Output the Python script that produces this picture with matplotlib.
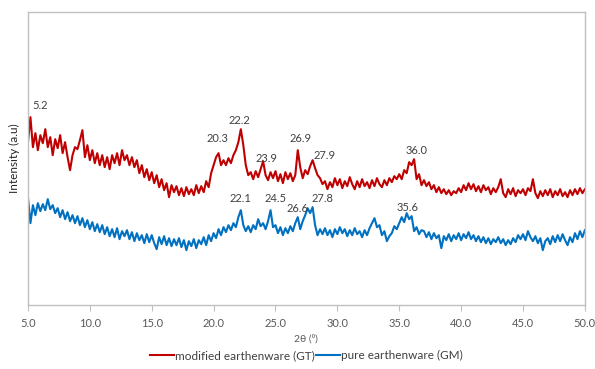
import numpy as np
import matplotlib.pyplot as plt

plt.rcParams['font.family'] = ['Lato', 'DejaVu Sans']

# 2-theta grid (deg), step 0.2
two_theta = np.round(np.arange(5.0, 50.0001, 0.2), 1)

# modified earthenware (GT), intensity (a.u.)
gt = [
    163, 188, 158, 172, 155, 170, 162, 176, 158, 168,
    150, 166, 157, 170, 152, 163, 148, 135, 150, 158,
    156, 165, 175, 148, 160, 145, 155, 142, 152, 140,
    150, 138, 148, 136, 150, 142, 152, 140, 155, 145,
    150, 140, 148, 138, 145, 132, 140, 128, 136, 125,
    133, 122, 130, 118, 126, 115, 122, 108, 120, 113,
    119, 110, 117, 109, 118, 111, 116, 110, 120, 112,
    119, 113, 124, 118, 132, 140, 148, 152, 140, 145,
    140, 147, 142, 150, 155, 163, 176, 160, 140, 130,
    133, 126, 134, 128, 136, 144, 130, 125, 133, 127,
    134, 124, 131, 122, 133, 126, 132, 124, 130, 155,
    138, 127, 135, 131, 139, 145, 137, 130, 127, 121,
    124, 116, 123, 118, 127, 120, 126, 117, 124, 119,
    128, 121, 116, 124, 118, 126, 119, 123, 117, 125,
    119, 127, 121, 118, 125, 120, 127, 123, 129, 126,
    131, 126, 135, 132, 143, 140, 146, 126, 131, 120,
    125, 119, 123, 116, 120, 113, 118, 112, 116, 111,
    115, 110, 114, 112, 117, 113, 120, 115, 122, 116,
    121, 114, 119, 113, 120, 115, 118, 111, 117, 113,
    118, 126, 112, 108, 116, 111, 117, 109, 115, 112,
    116, 110, 117, 114, 126, 112, 107, 114, 109, 115,
    110, 116, 108, 114, 110, 116, 109, 113, 108, 115,
    110, 116, 111, 117, 112, 116,
]

# pure earthenware (GM)
gm = [
    108, 82, 100, 90, 102, 94, 101, 95, 106, 96,
    100, 92, 97, 88, 95, 86, 93, 84, 90, 82,
    89, 80, 87, 78, 85, 76, 83, 74, 81, 73,
    80, 71, 78, 69, 76, 68, 77, 66, 74, 69,
    75, 66, 73, 64, 72, 65, 70, 62, 71, 63,
    70, 62, 56, 68, 61, 69, 60, 67, 59, 66,
    60, 67, 58, 65, 55, 64, 59, 66, 57, 65,
    61, 68, 60, 70, 64, 72, 67, 76, 70, 78,
    73, 80, 75, 82, 78, 88, 95, 80, 74, 79,
    73, 80, 76, 86, 79, 82, 76, 84, 95, 78,
    80, 72, 78, 70, 77, 72, 79, 74, 82, 88,
    76, 84, 90, 97, 92, 98, 80, 70, 76, 71,
    77, 70, 75, 68, 76, 71, 78, 72, 76, 69,
    75, 70, 77, 71, 74, 68, 75, 70, 77, 82,
    87, 78, 80, 70, 74, 64, 69, 72, 79, 76,
    82, 88, 83, 92, 86, 89, 74, 78, 71, 75,
    74, 68, 73, 66, 72, 67, 70, 57, 69, 65,
    71, 64, 70, 66, 72, 65, 71, 67, 73, 66,
    70, 64, 69, 63, 68, 62, 67, 61, 66, 63,
    68, 62, 66, 60, 65, 61, 67, 63, 70, 66,
    71, 65, 74, 68, 64, 69, 62, 67, 55, 64,
    67, 61, 69, 63, 70, 64, 71, 65, 60, 68,
    63, 72, 66, 74, 68, 75,
]

# peak labels: (text, x, y)
gt_peaks = [('5.2', 5.95, 200), ('20.3', 20.3, 167), ('22.2', 22.1, 185),
            ('23.9', 24.3, 147), ('26.9', 27.0, 167), ('27.9', 29.0, 150),
            ('36.0', 36.4, 155)]
gm_peaks = [('22.1', 22.2, 107), ('24.5', 25.0, 107), ('26.6', 26.8, 97),
            ('27.8', 28.8, 107), ('35.6', 35.7, 98)]

fig = plt.figure(figsize=(5.95, 3.69), dpi=100)
ax = fig.add_axes([0.047, 0.173, 0.936, 0.794])

ax.plot(two_theta, gt, color='#C00000', lw=1.5, label='modified earthenware (GT)')
ax.plot(two_theta, gm, color='#0070C0', lw=1.5, label='pure earthenware (GM)')

for txt, x, y in gt_peaks + gm_peaks:
    ax.text(x, y, txt, ha='center', va='center', fontsize=8, color='#404040')

ax.set_xlim(5, 50)
ax.set_ylim(0, 293)
ax.set_xticks(np.arange(5, 50.1, 5))
ax.set_xticklabels([f'{v:.1f}' for v in np.arange(5, 50.1, 5)])
ax.set_yticks([])
for s in ax.spines.values():
    s.set_color('#bfbfbf')
    s.set_linewidth(1)
ax.tick_params(axis='x', colors='#bfbfbf', labelcolor='#595959', labelsize=8,
               length=4, pad=5)

ax.set_xlabel('2θ (⁰)', fontsize=7.5, color='#595959', labelpad=4)
ax.set_ylabel('Intensity (a.u)', fontsize=8.5, color='#262626', labelpad=6)

ax.legend(loc='center', bbox_to_anchor=(0.5, -0.172), ncol=2, frameon=False,
          fontsize=8.5, handlelength=2, handletextpad=0.1, columnspacing=0.1,
          labelcolor='#404040')

fig.savefig('out.png', dpi=100)
